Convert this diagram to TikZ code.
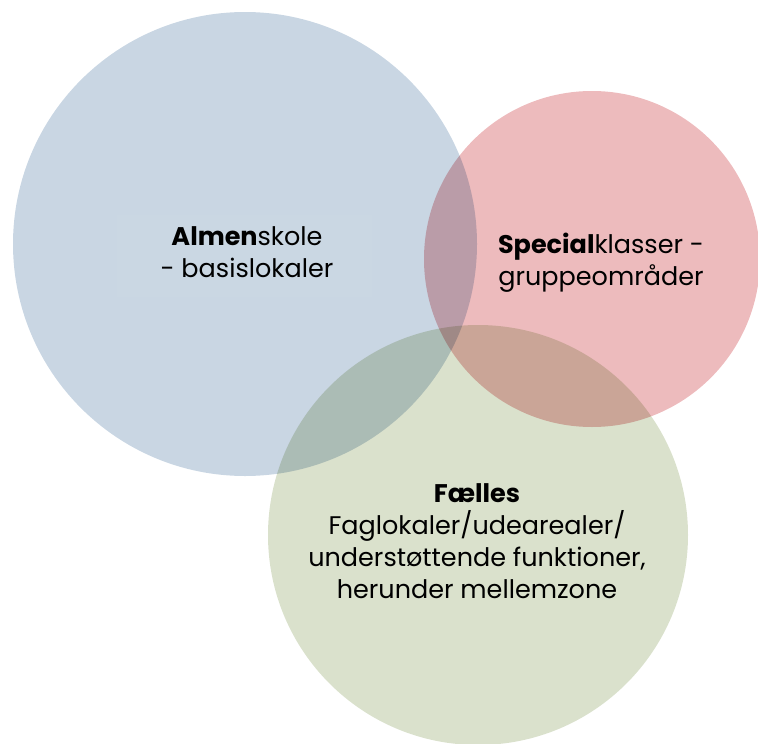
\documentclass[tikz,border=0pt]{standalone}
\usepackage{fontspec}
\setmainfont{Poppins}
\definecolor{cblue}{HTML}{C9D6E3}
\definecolor{cpink}{HTML}{EDBBBD}
\definecolor{cgreen}{HTML}{DAE1CC}
\definecolor{cpatch}{HTML}{CCD8E4}
\tikzset{
  disc/.style={circle, inner sep=0pt, draw=none},
  label/.style={align=center, text=black, font=\fontsize{25.5}{32}\selectfont, inner sep=0pt},
}
\begin{document}
\begin{tikzpicture}[x=1pt,y=-1pt]
\useasboundingbox (0,0) rectangle (758,744);
\begin{scope}[blend group=multiply]
  \node[disc, fill=cblue, minimum size=464pt] (almen) at (245,244) {};
  \node[disc, fill=cpink, minimum size=336pt] (special) at (592,259) {};
  \node[disc, fill=cgreen, minimum size=420pt] (faelles) at (478,535) {};
\end{scope}
\fill[cpatch, opacity=0.6] (117,215) rectangle (372,297);
\node[label] (talmen) at (247,252) {\textbf{Almen}skole\\- basislokaler};
\node[label] (tspecial) at (601,263) {\textbf{Special}klasser -\\gruppeområder};
\node[label] (tfaelles) at (477,541) {\textbf{Fælles}\\Faglokaler/udearealer/\\understøttende funktioner,\\herunder mellemzone};
\end{tikzpicture}
\end{document}
